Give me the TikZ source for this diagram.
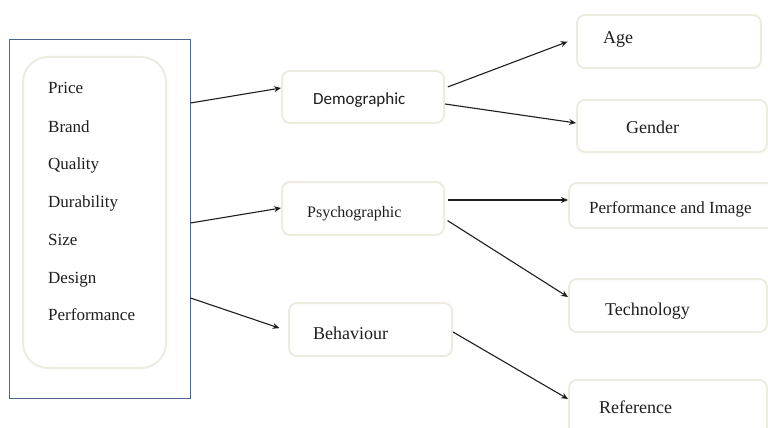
\documentclass[tikz,border=0pt]{standalone}
\usepackage{fontspec}
\setmainfont{Liberation Serif}
\newfontfamily\calib{Carlito}
\usetikzlibrary{arrows.meta}
\definecolor{boxline}{HTML}{EEECE1}
\definecolor{frameline}{HTML}{4A6589}
\definecolor{ink}{HTML}{1E1E1E}
\tikzset{
  rbox/.style={draw=boxline, line width=2pt, rounded corners=8pt, fill=white, inner sep=0pt},
  txt/.style={anchor=base west, inner sep=0pt, text=ink, font=\fontsize{17}{20}\selectfont},
  bigtxt/.style={txt, font=\fontsize{18}{21}\selectfont},
  arr/.style={draw=ink, line width=1.1pt, -{Stealth[length=7pt,width=6pt,inset=2.5pt]}}
}
\begin{document}
\begin{tikzpicture}[x=1pt,y=-1pt]
\clip (0,0) rectangle (768,428);
\fill[white] (0,0) rectangle (768,428);
% left frame
\node[draw=frameline, line width=1pt, minimum width=181pt, minimum height=358pt, inner sep=0pt] (outer) at (99.5,219) {};
\node[draw=boxline, line width=2pt, rounded corners=25pt, minimum width=143pt, minimum height=311pt, inner sep=0pt] (inner) at (94.5,212.5) {};
\node[txt] (t1) at (48,93) {Price};
\node[txt] (t2) at (48,132) {Brand};
\node[txt] (t3) at (48,169) {Quality};
\node[txt] (t4) at (48,207) {Durability};
\node[txt] (t5) at (48,245) {Size};
\node[txt] (t6) at (48,283) {Design};
\node[txt] (t7) at (48,320) {Performance};
% middle boxes
\node[rbox, minimum width=162pt, minimum height=52pt] (demo) at (363,97) {};
\node[txt, font=\calib\fontsize{17}{20}\selectfont] (demoT) at (313,104) {Demographic};
\node[rbox, minimum width=162pt, minimum height=53pt] (psych) at (363,208.5) {};
\node[txt, font=\fontsize{16}{19}\selectfont] (psychT) at (307,217) {Psychographic};
\node[rbox, minimum width=163pt, minimum height=53pt] (beh) at (370.5,329.5) {};
\node[bigtxt] (behT) at (313,339) {Behaviour};
% right boxes
\node[rbox, minimum width=184pt, minimum height=53pt] (age) at (669,41.5) {};
\node[bigtxt] (ageT) at (603,44) {Age};
\node[rbox, minimum width=190pt, minimum height=52pt] (gender) at (672,126) {};
\node[bigtxt] (genderT) at (626,133) {Gender};
\node[rbox, minimum width=206pt, minimum height=45pt] (perf) at (672,205.5) {};
\node[txt] (perfT) at (589,213) {Performance and Image};
\node[rbox, minimum width=198pt, minimum height=53pt] (tech) at (668,305.5) {};
\node[bigtxt] (techT) at (605,315) {Technology};
\node[rbox, minimum width=198pt, minimum height=56pt] (ref) at (668,408) {};
\node[bigtxt] (refT) at (599,413) {Reference};
% arrows
\draw[arr] (outer.east |- 0,103) -- (demo.west |- 0,88);
\draw[arr] (outer.east |- 0,223) -- (psych.west |- 0,208);
\draw[arr, shorten >=9pt] (outer.east |- 0,298) -- (beh.west |- 0,331);
\draw[arr, shorten <=3pt, shorten >=9pt] (demo.east |- 0,88) -- (age.west |- 0,38.5);
\draw[arr] (demo.east |- 0,104) -- (gender.west |- 0,123);
\draw[arr, shorten <=3pt] (psych.east |- 0,200) -- (perf.west |- 0,200);
\draw[arr, shorten <=3pt] (psych.east |- 0,219) -- (tech.west |- 0,297);
\draw[arr] (beh.east |- 0,332) -- (ref.west |- 0,399);
\end{tikzpicture}
\end{document}
